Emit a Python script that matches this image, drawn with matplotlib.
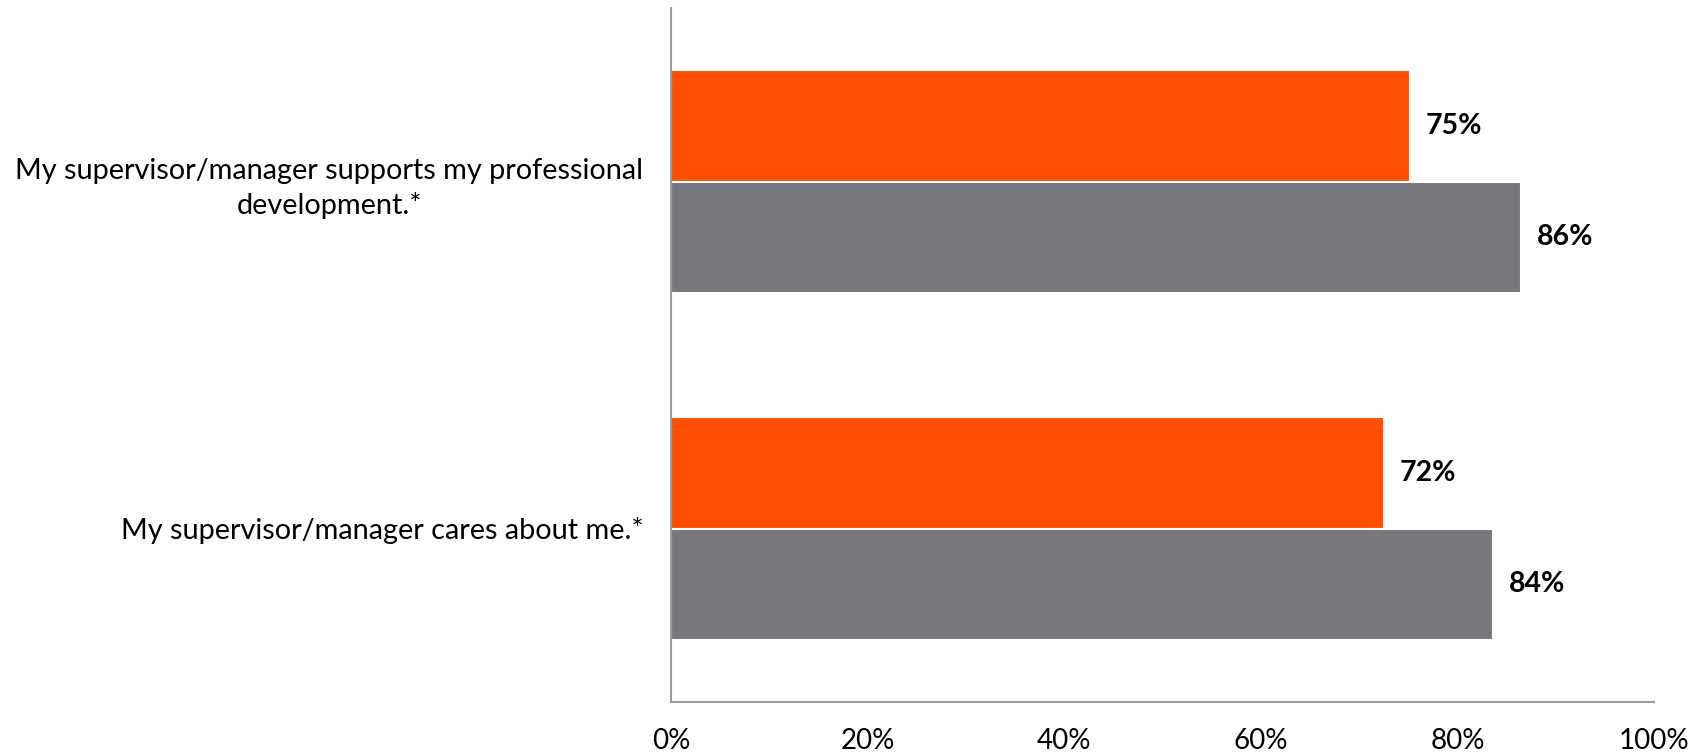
import matplotlib.pyplot as plt

plt.rcParams['font.family'] = ['Lato', 'DejaVu Sans']

categories = [
    "My supervisor/manager supports my professional\ndevelopment.*",
    "My supervisor/manager cares about me.*",
]
# bar lengths as measured on the chart, labels as printed
series_orange = [75.2, 72.5]
series_gray = [86.5, 83.6]
labels_orange = ["75%", "72%"]
labels_gray = ["86%", "84%"]
xticks = [0, 20, 40, 60, 80, 100]

orange = "#FF4F00"
gray = "#77787B"

fig = plt.figure(figsize=(17.05, 7.55), dpi=100)
ax = fig.add_axes([671 / 1705, 1 - 702 / 755, 983 / 1705, 694 / 755])

pos = [1, 0]
h = 0.32
y_or = [p + h / 2 for p in pos]
y_gr = [p - h / 2 for p in pos]
ax.barh(y_or, series_orange, height=h, color=orange, edgecolor="white", linewidth=1.5)
ax.barh(y_gr, series_gray, height=h, color=gray, edgecolor="white", linewidth=1.5)

for y, v, lab in zip(y_or, series_orange, labels_orange):
    ax.text(v + 1.6, y, lab, va="center", ha="left", fontsize=20.5, fontweight="bold")
for y, v, lab in zip(y_gr, series_gray, labels_gray):
    ax.text(v + 1.6, y, lab, va="center", ha="left", fontsize=20.5, fontweight="bold")

ax.set_xlim(0, 100)
ax.set_ylim(-0.5, 1.5)
ax.set_xticks(xticks)
ax.set_xticklabels([f"{t}%" for t in xticks], fontsize=20)
ax.set_yticks(pos)
ax.set_yticklabels(categories, fontsize=20.8, multialignment="center", linespacing=1.37)
ax.tick_params(axis="both", length=0)
ax.tick_params(axis="x", pad=19)
ax.tick_params(axis="y", pad=20)

for s in ["top", "right"]:
    ax.spines[s].set_visible(False)
for s in ["left", "bottom"]:
    ax.spines[s].set_color("#9A9A9A")
    ax.spines[s].set_linewidth(1.5)

fig.savefig("out.png", dpi=100)
